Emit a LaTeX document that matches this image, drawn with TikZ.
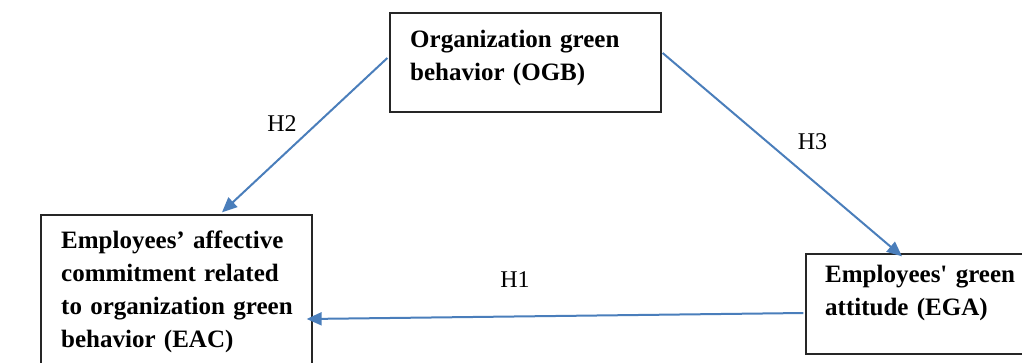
\documentclass[tikz,border=0pt]{standalone}
\usepackage{fontspec}
\setmainfont{Liberation Serif}
\usepackage{xcolor}
\usepackage{tikz}
\usetikzlibrary{arrows.meta,positioning,calc}
\definecolor{PathBlue}{HTML}{4A7EBB}
\definecolor{BoxGray}{HTML}{262626}

\begin{document}
\begin{tikzpicture}[x=1pt,y=-1pt,
  box/.style={draw=BoxGray,line width=1.3pt,inner sep=0pt},
  boxtext/.style={anchor=base west,align=left,text width=240pt,inner sep=0pt,
    font=\fontsize{25}{33}\selectfont\bfseries},
  hyp/.style={anchor=base,inner sep=0pt,font=\fontsize{24}{28}\selectfont},
  link/.style={PathBlue,line width=2pt,-{Triangle[length=15pt,width=13pt]}}]
  \useasboundingbox (0,0) rectangle (1022,362);
  % boxes
  \node[box,minimum width=271pt,minimum height=99pt] (ogb) at (525.5,62.5) {};
  \node[box,minimum width=271pt,minimum height=160pt] (eac) at (176.5,295) {};
  \node[box,minimum width=234pt,minimum height=100pt] (ega) at (923,304) {};
  \node[boxtext] (ogbtext) at (410,47) {Organization green\\behavior (OGB)};
  \node[boxtext] (eactext) at (61,248) {Employees’ affective\\commitment related\\to organization green\\behavior (EAC)};
  \node[boxtext] (egatext) at (825,282) {Employees\textquotesingle{} green\\attitude (EGA)};
  % hypotheses
  \draw[link] ([shift={(-2,-4.5)}]ogb.west) -- ([shift={(45.5,-2)}]eac.north);
  \draw[link] ([shift={(1,-9.5)}]ogb.east) -- ([shift={(-21,3)}]ega.north);
  \draw[link] ([shift={(-2,9)}]ega.west) -- ([shift={(-6,24)}]eac.east);
  \node[hyp] (h2) at (282,131) {H2};
  \node[hyp] (h3) at (812.5,149) {H3};
  \node[hyp] (h1) at (515,287) {H1};
\end{tikzpicture}
\end{document}
